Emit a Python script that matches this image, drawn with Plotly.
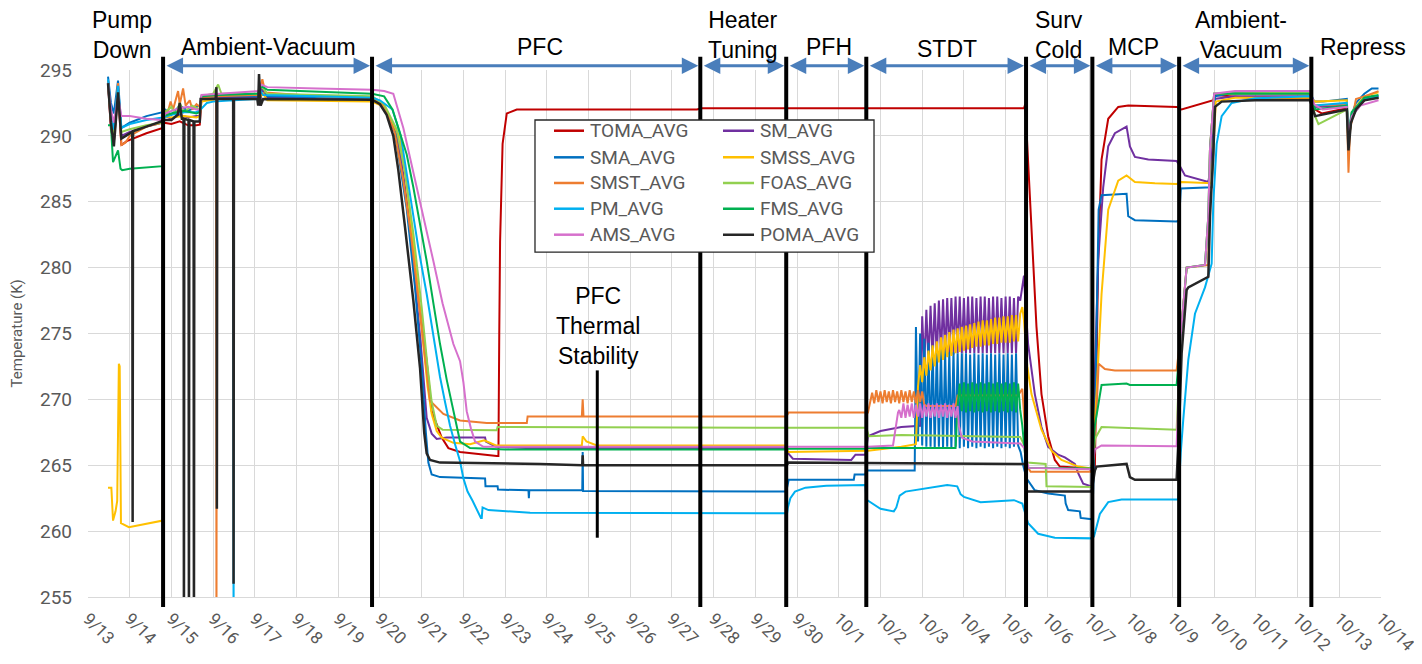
import plotly.graph_objects as go

# ---------------- data ----------------
DATE_LABELS = ['9/13', '9/14', '9/15', '9/16', '9/17', '9/18', '9/19', '9/20', '9/21', '9/22',
               '9/23', '9/24', '9/25', '9/26', '9/27', '9/28', '9/29', '9/30', '10/1', '10/2',
               '10/3', '10/4', '10/5', '10/6', '10/7', '10/8', '10/9', '10/10', '10/11', '10/12',
               '10/13', '10/14']
DAY_TICKS = list(range(32))          # days since 9/13 00:00
Y_TICKS = [255, 260, 265, 270, 275, 280, 285, 290, 295]

PHASE_BOUNDS = [1.80, 6.81, 14.68, 16.74, 18.66, 22.49, 24.08, 26.16, 29.33]
PHASE_NAMES = ["Pump<br>Down", "Ambient-Vacuum", "PFC", "Heater<br>Tuning", "PFH", "STDT",
               "Surv<br>Cold", "MCP", "Ambient-<br>Vacuum", "Repress"]
STABILITY_NAME = "PFC<br>Thermal<br>Stability"
STABILITY_DAY = 12.21
STABILITY_RANGE = [259.5, 272.2]

NAMES = ["TOMA_AVG", "SM_AVG", "SMA_AVG", "SMSS_AVG", "SMST_AVG",
         "FOAS_AVG", "PM_AVG", "FMS_AVG", "AMS_AVG", "POMA_AVG"]

# sample times of the STDT heater cycling (days since 9/13)
OSC_T = [18.75, 18.80, 18.85, 18.90, 18.95, 19.00, 19.05, 19.10, 19.15, 19.20, 19.25, 19.30,
         19.35, 19.40, 19.45, 19.50, 19.55, 19.60, 19.65, 19.70, 19.75, 19.80, 19.85, 19.90,
         19.95, 20.00, 20.05, 20.10, 20.15, 20.20, 20.25, 20.30, 20.35, 20.40, 20.45, 20.50,
         20.55, 20.60, 20.65, 20.70, 20.75, 20.80, 20.85, 20.90, 20.95, 21.00, 21.05, 21.10,
         21.15, 21.20, 21.25, 21.30, 21.35, 21.40, 21.45, 21.50, 21.55, 21.60, 21.65, 21.70,
         21.75, 21.80, 21.85, 21.90, 21.95, 22.00, 22.05, 22.10, 22.15, 22.20, 22.25, 22.30, 22.35]

TOMA = [(0.48, 294.0), (0.55, 290.5), (0.62, 289.5), (0.72, 293.3), (0.80, 289.3), (0.93, 289.6),
        (1.40, 290.2), (1.79, 290.6), (1.82, 291.0), (2.00, 290.9), (2.20, 291.1), (2.40, 290.8),
        (2.60, 290.8), (2.68, 290.85), (2.72, 292.8), (3.10, 292.9), (4.08, 292.9), (4.15, 293.6),
        (4.30, 292.95), (6.81, 292.9), (7.10, 292.3), (7.35, 290.5), (7.55, 287.0), (7.75, 282.5),
        (7.95, 277.0), (8.12, 272.9), (8.24, 269.1), (8.48, 267.1), (8.64, 266.3), (8.92, 266.0),
        (9.80, 265.7), (9.84, 265.7), (9.86, 275.0), (9.88, 282.0), (9.94, 289.4), (10.04, 291.7),
        (10.28, 292.0), (14.60, 292.0), (14.70, 292.1), (18.60, 292.1), (22.44, 292.1),
        (22.47, 292.4), (22.52, 289.2), (22.62, 283.1), (22.74, 275.5), (22.86, 270.4),
        (23.02, 267.2), (23.18, 265.4), (23.30, 264.9), (23.98, 264.75), (24.08, 264.6),
        (24.14, 264.9), (24.22, 280.6), (24.30, 288.2), (24.46, 291.3), (24.70, 292.2),
        (24.94, 292.3), (26.10, 292.2), (26.22, 292.0), (26.98, 292.7), (27.02, 293.1),
        (27.98, 292.85), (29.30, 292.85), (29.42, 292.0), (29.58, 291.7), (30.18, 292.1),
        (30.22, 289.4), (30.26, 290.5), (30.32, 291.8), (30.50, 292.5), (30.78, 293.0), (30.94, 292.85)]

SM = [(0.48, 294.0), (0.55, 291.0), (0.62, 290.0), (0.72, 293.7), (0.80, 290.0), (1.00, 290.3),
      (1.40, 290.7), (1.79, 291.0), (1.85, 291.5), (2.00, 291.3), (2.20, 291.6), (2.40, 291.4),
      (2.60, 291.5), (2.68, 291.5), (2.72, 292.8), (3.10, 292.9), (4.08, 292.9), (4.12, 292.3),
      (4.16, 293.6), (4.30, 292.95), (6.81, 292.85), (7.00, 292.5), (7.20, 291.5), (7.40, 290.3),
      (7.52, 288.0), (7.64, 285.0), (7.76, 281.5), (7.88, 277.8), (7.98, 274.2), (8.06, 271.0),
      (8.12, 268.6), (8.24, 267.4), (8.36, 267.0), (8.60, 267.1), (9.52, 267.1), (9.54, 266.8),
      (9.78, 266.4), (10.50, 266.3), (16.74, 266.3), (16.76, 266.0), (16.90, 265.5), (18.30, 265.4),
      (18.40, 265.8), (18.64, 265.8), (18.70, 267.2), (19.00, 267.6), (19.50, 267.9), (19.95, 268.0),
      (22.40, 278.5), (22.44, 279.4), (22.48, 277.0), (22.54, 274.2), (22.70, 270.4), (22.86, 267.9),
      (23.02, 266.4), (23.26, 265.8), (23.42, 265.6), (23.66, 265.1), (23.74, 264.4), (23.86, 263.6),
      (24.06, 263.4), (24.14, 273.0), (24.22, 280.6), (24.34, 286.1), (24.46, 289.2), (24.62, 290.2),
      (24.90, 290.7), (24.98, 289.2), (25.10, 288.4), (25.42, 288.2), (26.10, 288.1), (26.18, 287.7),
      (26.30, 287.0), (26.86, 286.5), (26.94, 288.0), (27.00, 292.8), (27.50, 293.0), (29.30, 293.0),
      (29.40, 292.2), (30.18, 292.3), (30.22, 289.8), (30.30, 291.5), (30.60, 292.7), (30.94, 293.0)]
SM_OSC = [276.3, 272.6, 276.8, 272.8, 277.1, 273.0, 277.3, 273.1, 277.5, 273.2, 277.6, 273.3,
          277.7, 273.4, 277.7, 273.4, 277.8, 273.5, 277.8, 273.5, 277.7, 273.5, 277.8, 273.5,
          277.8, 273.5, 277.7, 273.5, 277.8, 273.5, 277.8, 273.5, 277.7, 273.5, 277.8, 273.5,
          277.8, 273.5, 277.7, 273.5, 277.8, 273.5, 277.8, 273.5, 277.7, 273.5, 277.8, 277.5]

SMA = [(0.48, 294.5), (0.55, 292.5), (0.62, 291.7), (0.72, 294.2), (0.80, 290.6), (1.00, 291.0),
       (1.40, 291.5), (1.79, 291.8), (1.85, 292.0), (2.00, 291.6), (2.20, 292.3), (2.40, 291.9),
       (2.60, 292.2), (2.68, 292.3), (2.72, 292.9), (3.10, 293.0), (4.08, 293.0), (4.15, 293.9),
       (4.30, 293.0), (6.81, 292.9), (7.00, 292.5), (7.20, 291.5), (7.36, 290.3), (7.50, 287.5),
       (7.64, 284.5), (7.84, 278.5), (8.00, 272.5), (8.10, 267.5), (8.16, 265.2), (8.24, 264.3),
       (8.44, 264.1), (9.52, 264.0), (9.53, 263.4), (9.82, 263.4), (9.83, 263.15), (10.56, 263.1),
       (10.57, 262.5), (10.58, 263.1), (11.85, 263.1), (11.86, 266.0), (11.87, 263.05), (16.74, 263.0),
       (16.80, 263.9), (18.36, 263.9), (18.38, 264.3), (18.64, 264.3), (18.66, 264.6), (19.82, 264.6),
       (22.36, 266.0), (22.42, 265.0), (22.50, 264.0), (22.70, 263.1), (23.02, 262.85), (23.42, 262.7),
       (23.44, 262.1), (23.50, 261.6), (23.78, 261.5), (23.80, 261.0), (24.08, 260.9), (24.14, 268.0),
       (24.18, 276.0), (24.23, 284.4), (24.30, 285.5), (24.90, 285.6), (24.94, 283.9), (25.10, 283.6),
       (26.10, 283.5), (26.16, 283.6), (26.20, 286.0), (26.94, 286.1), (26.98, 289.0), (27.02, 293.0),
       (27.50, 293.3), (29.30, 293.3), (29.40, 292.6), (29.60, 292.6), (30.18, 292.8), (30.22, 289.5),
       (30.28, 291.5), (30.40, 292.5), (30.60, 293.2), (30.78, 293.6), (30.94, 293.6)]
SMA_OSC = [275.5, 266.8, 275.0, 266.5, 274.6, 266.4, 274.3, 266.4, 274.1, 266.3, 273.9, 266.4,
           273.8, 266.3, 273.7, 266.4, 273.6, 266.3, 273.6, 266.4, 273.5, 266.3, 273.5, 266.4,
           273.5, 266.3, 273.4, 266.4, 273.5, 266.3, 273.4, 266.4, 273.5, 266.3, 273.4, 266.4,
           273.5, 266.3, 273.4, 266.4, 273.5, 266.3, 273.4, 266.4, 273.5, 266.3, 273.4, 266.4,
           273.5, 266.5]

SMSS = [(0.48, 263.3), (0.56, 263.3), (0.60, 260.8), (0.66, 261.5), (0.70, 262.3), (0.74, 272.7),
        (0.76, 272.5), (0.79, 260.6), (0.98, 260.3), (1.79, 260.8), (1.82, 291.5), (2.00, 291.4),
        (2.30, 291.5), (2.60, 291.4), (2.68, 291.5), (2.72, 292.6), (3.10, 292.8), (4.08, 292.8),
        (4.20, 293.2), (4.30, 292.7), (6.81, 292.6), (7.10, 292.2), (7.48, 289.9), (7.64, 286.3),
        (7.80, 281.8), (7.92, 277.8), (8.04, 274.2), (8.14, 271.0), (8.24, 268.9), (8.36, 267.6),
        (8.48, 267.1), (8.76, 266.7), (9.16, 266.6), (9.50, 266.9), (9.78, 266.5), (11.84, 266.5),
        (11.86, 267.2), (11.95, 266.8), (12.20, 266.5), (16.74, 266.5), (16.78, 266.0), (18.70, 266.1),
        (19.50, 266.4), (19.85, 266.6), (22.40, 277.0), (22.44, 276.0), (22.52, 272.5), (22.62, 270.4),
        (22.86, 267.7), (23.10, 266.1), (23.34, 265.4), (23.74, 264.9), (24.06, 264.75), (24.18, 270.4),
        (24.30, 278.0), (24.46, 284.4), (24.70, 286.6), (24.90, 287.0), (25.10, 286.5), (25.58, 286.4),
        (26.10, 286.35), (26.22, 286.5), (26.94, 286.4), (26.98, 289.0), (27.04, 292.6), (27.50, 292.9),
        (29.30, 292.9), (29.42, 292.6), (30.18, 292.7), (30.22, 289.8), (30.30, 291.8), (30.60, 293.0),
        (30.94, 293.3)]
SMSS_OSC = [271.0, 272.6, 271.3, 273.2, 271.8, 273.7, 272.2, 274.1, 272.5, 274.4, 272.8, 274.7,
            273.0, 274.9, 273.2, 275.1, 273.3, 275.3, 273.5, 275.4, 273.6, 275.5, 273.7, 275.6,
            273.8, 275.7, 273.9, 275.8, 274.0, 275.9, 274.0, 276.0, 274.1, 276.0, 274.1, 276.1,
            274.2, 276.2, 274.2, 276.2, 274.3, 276.3, 274.3, 276.3, 274.3, 276.4, 274.4, 276.4,
            274.4, 276.5]

SMST = [(0.48, 294.2), (0.55, 291.0), (0.62, 290.0), (0.72, 294.0), (0.80, 289.3), (0.90, 289.5),
        (1.00, 290.0), (1.40, 290.7), (1.79, 291.0), (1.82, 292.0), (1.90, 291.6), (1.98, 292.6),
        (2.04, 292.0), (2.10, 292.8), (2.16, 293.4), (2.20, 292.4), (2.28, 293.6), (2.34, 292.3),
        (2.44, 292.7), (2.50, 292.0), (2.60, 292.4), (2.68, 292.2), (2.72, 292.9), (3.07, 293.0),
        (3.08, 250.0), (3.09, 293.0), (4.08, 293.1), (4.18, 294.3), (4.25, 293.3), (5.50, 293.0),
        (6.81, 292.9), (7.10, 292.3), (7.35, 290.3), (7.55, 286.8), (7.75, 282.3), (7.95, 276.8),
        (8.10, 272.5), (8.20, 269.9), (8.52, 268.9), (8.92, 268.4), (9.56, 268.2), (10.52, 268.2),
        (10.54, 268.7), (11.84, 268.7), (11.86, 270.0), (11.88, 268.7), (16.74, 268.7), (16.80, 269.0),
        (18.70, 269.0), (20.10, 269.5), (20.80, 269.5), (20.85, 270.3), (22.30, 270.3), (22.40, 270.8),
        (22.46, 268.0), (22.50, 265.0), (22.60, 264.5), (24.06, 264.5), (24.12, 266.5), (24.18, 269.2),
        (24.23, 272.7), (24.38, 272.3), (24.62, 272.2), (26.10, 272.2), (26.20, 275.0), (26.34, 280.0),
        (26.86, 280.2), (26.90, 289.0), (27.00, 293.2), (29.30, 293.2), (29.40, 292.3), (30.18, 292.4),
        (30.22, 287.2), (30.26, 290.5), (30.40, 292.8), (30.60, 293.0), (30.94, 293.4)]
SMST_OSC = [270.5, 269.7, 270.7, 269.8, 270.6, 269.7, 270.7, 269.8, 270.6, 269.7, 270.7, 269.8,
            270.6, 269.7, 270.7, 269.8, 270.6, 269.7, 270.7, 269.8, 270.6, 269.7, 270.7, 269.8,
            270.6, 269.6]

FOAS = [(0.48, 294.0), (0.55, 291.2), (0.62, 290.0), (0.72, 293.5), (0.80, 290.3), (1.00, 290.5),
        (1.40, 290.8), (1.79, 291.0), (1.85, 291.8), (2.00, 292.2), (2.10, 291.6), (2.20, 292.5),
        (2.30, 291.8), (2.50, 292.3), (2.68, 292.0), (2.72, 293.0), (3.00, 293.2), (3.12, 293.9),
        (3.20, 293.2), (4.08, 293.2), (4.15, 293.8), (4.30, 293.2), (6.81, 293.0), (7.10, 292.4),
        (7.40, 290.5), (7.60, 287.2), (7.80, 282.6), (8.00, 277.0), (8.14, 272.5), (8.24, 269.8),
        (8.36, 268.0), (8.50, 267.7), (9.80, 267.65), (9.82, 267.9), (16.74, 267.85), (18.66, 267.85),
        (18.72, 267.2), (19.50, 267.3), (22.35, 267.15), (22.45, 266.5), (22.52, 265.2), (22.96, 265.1),
        (22.98, 263.4), (24.06, 263.35), (24.14, 267.0), (24.30, 267.9), (26.10, 267.7), (26.20, 275.0),
        (26.34, 280.0), (26.78, 280.2), (26.86, 283.9), (26.90, 289.0), (27.00, 293.2), (29.30, 293.3),
        (29.42, 291.5), (29.50, 290.9), (30.18, 292.0), (30.22, 289.5), (30.30, 291.5), (30.60, 292.8),
        (30.94, 292.9)]

PM = [(0.48, 294.3), (0.55, 291.5), (0.62, 290.5), (0.72, 293.8), (0.80, 290.6), (1.00, 290.9),
      (1.40, 291.2), (1.79, 291.4), (2.00, 291.6), (2.30, 291.8), (2.60, 291.8), (2.70, 292.0),
      (2.85, 292.5), (3.00, 292.6), (3.48, 292.7), (3.49, 250.0), (3.50, 292.7), (4.08, 292.8),
      (4.12, 293.5), (4.20, 293.1), (5.50, 293.0), (6.81, 292.9), (7.00, 292.7), (7.30, 292.0),
      (7.50, 290.0), (7.72, 285.6), (7.92, 281.5), (8.12, 278.0), (8.28, 275.0), (8.44, 271.7),
      (8.56, 269.8), (8.68, 268.0), (8.80, 266.6), (8.92, 265.3), (9.00, 264.0), (9.10, 263.0),
      (9.22, 262.3), (9.32, 261.6), (9.42, 261.0), (9.44, 261.0), (9.46, 261.8), (9.60, 261.6),
      (10.00, 261.5), (10.60, 261.4), (16.76, 261.35), (16.78, 261.8), (16.84, 262.5), (16.95, 263.0),
      (17.20, 263.3), (17.70, 263.45), (18.64, 263.5), (18.66, 262.4), (19.00, 261.7), (19.32, 261.5),
      (19.38, 261.8), (19.46, 262.7), (19.60, 263.0), (19.96, 263.2), (20.60, 263.5), (20.84, 263.4),
      (20.92, 262.8), (21.00, 262.6), (21.40, 262.2), (22.20, 262.35), (22.40, 262.1), (22.54, 260.6),
      (22.78, 259.8), (23.18, 259.5), (24.08, 259.45), (24.12, 259.6), (24.26, 261.3), (24.46, 262.2),
      (24.78, 262.4), (26.14, 262.4), (26.20, 266.0), (26.26, 268.5), (26.38, 273.0), (26.54, 276.5),
      (26.78, 278.5), (26.94, 280.3), (26.98, 285.0), (27.06, 289.4), (27.18, 291.5), (27.42, 292.5),
      (27.98, 292.85), (29.30, 293.0), (29.40, 292.3), (30.18, 292.5), (30.22, 289.8), (30.30, 291.8),
      (30.60, 292.8), (30.94, 293.0)]

FMS = [(0.48, 290.8), (0.55, 290.8), (0.60, 288.0), (0.66, 288.5), (0.72, 288.9), (0.78, 287.5),
       (0.82, 287.4), (1.00, 287.5), (1.79, 287.7), (1.82, 291.5), (2.00, 291.7), (2.30, 291.9),
       (2.60, 291.7), (2.68, 291.8), (2.72, 293.0), (3.10, 293.1), (4.08, 293.2), (4.15, 293.8),
       (4.30, 293.5), (6.81, 293.2), (7.10, 293.0), (7.30, 292.0), (7.50, 290.0), (7.64, 288.6),
       (7.80, 286.1), (7.96, 283.3), (8.12, 280.5), (8.28, 277.3), (8.44, 274.2), (8.60, 271.5),
       (8.76, 269.1), (8.92, 266.8), (9.16, 266.3), (10.00, 266.2), (16.74, 266.2), (16.80, 266.26),
       (18.64, 266.26), (18.70, 266.3), (20.80, 266.3), (22.40, 268.0), (22.46, 266.0), (22.52, 264.8),
       (24.06, 264.75), (24.14, 268.0), (24.30, 271.1), (24.90, 271.2), (24.98, 271.1), (26.10, 271.1),
       (26.20, 275.0), (26.34, 280.0), (26.78, 280.2), (26.86, 283.9), (26.90, 289.0), (27.00, 293.2),
       (29.30, 293.2), (29.42, 292.0), (30.18, 292.3), (30.22, 289.8), (30.30, 291.8), (30.60, 292.9),
       (30.94, 293.1)]
FMS_OSC = [269.5, 271.2, 269.1, 271.3, 269.0, 271.2, 269.1, 271.3, 269.0, 271.2, 269.1, 271.3,
           269.0, 271.2, 269.1, 271.3, 269.0, 271.2, 269.1, 271.3, 269.0, 271.2, 269.1, 271.3,
           269.0, 271.2, 269.1, 271.3, 269.0, 271.2, 269.2]

AMS = [(0.48, 294.0), (0.55, 292.0), (0.62, 291.0), (0.72, 293.0), (0.80, 291.5), (1.00, 291.5),
       (1.40, 291.3), (1.79, 291.2), (1.85, 291.7), (2.00, 291.9), (2.20, 292.1), (2.40, 292.2),
       (2.60, 292.0), (2.68, 292.0), (2.72, 293.1), (3.10, 293.2), (4.08, 293.4), (4.15, 293.9),
       (4.30, 293.7), (5.50, 293.6), (6.81, 293.5), (7.10, 293.4), (7.32, 293.2), (7.56, 290.6),
       (7.72, 288.4), (7.88, 286.1), (8.08, 283.2), (8.28, 280.5), (8.50, 277.3), (8.76, 274.2),
       (8.92, 272.9), (9.00, 271.3), (9.08, 269.1), (9.18, 267.8), (9.28, 266.8), (9.48, 266.4),
       (10.50, 266.4), (16.74, 266.4), (18.70, 266.4), (19.30, 266.5), (19.36, 267.8), (19.42, 269.0),
       (20.88, 268.0), (20.95, 267.1), (21.20, 266.8), (22.35, 266.65), (22.45, 266.3), (22.55, 264.8),
       (24.06, 264.7), (24.14, 266.2), (24.30, 266.5), (26.10, 266.45), (26.20, 275.0), (26.34, 280.0),
       (26.78, 280.2), (26.86, 283.9), (26.90, 289.0), (27.00, 293.2), (27.50, 293.4), (29.30, 293.4),
       (29.40, 292.4), (29.60, 292.0), (30.18, 292.2), (30.22, 290.0), (30.30, 291.5), (30.50, 292.3),
       (30.94, 292.7)]
AMS_OSC = [269.2, 268.6, 269.7, 268.6, 269.6, 268.7, 269.7, 268.6, 269.6, 268.7, 269.7, 268.6,
           269.6, 268.7, 269.7, 268.6, 269.6, 268.7, 269.7, 268.6, 269.6, 268.7, 269.7, 268.6,
           269.6, 268.7, 269.7, 268.6, 269.5]

POMA = [(0.48, 294.0), (0.55, 291.0), (0.62, 289.2), (0.72, 293.3), (0.80, 289.8), (1.00, 290.2),
        (1.06, 290.3), (1.07, 260.7), (1.08, 290.35), (1.40, 290.7), (1.79, 291.1), (1.85, 291.2),
        (2.00, 291.2), (2.15, 291.6), (2.20, 292.5), (2.25, 291.3), (2.29, 291.3), (2.30, 250.0),
        (2.31, 291.3), (2.41, 291.2), (2.42, 250.0), (2.43, 291.2), (2.53, 291.1), (2.54, 250.0),
        (2.55, 291.1), (2.68, 291.1), (2.70, 292.8), (3.06, 292.8), (3.08, 293.7), (3.09, 261.7),
        (3.10, 292.8), (3.48, 292.8), (3.49, 256.0), (3.50, 292.8), (4.06, 292.8), (4.08, 292.3),
        (4.10, 294.7), (4.14, 292.3), (4.20, 292.8), (6.81, 292.75), (7.00, 292.4), (7.16, 291.6),
        (7.32, 290.0), (7.44, 287.4), (7.60, 283.1), (7.80, 277.5), (7.96, 272.4), (8.06, 267.5),
        (8.12, 265.9), (8.20, 265.4), (8.44, 265.2), (10.84, 265.1), (11.85, 265.0), (11.86, 265.75),
        (11.87, 265.0), (16.74, 265.0), (16.80, 265.2), (22.46, 265.1), (22.50, 263.0), (24.06, 263.0),
        (24.14, 264.6), (24.18, 264.9), (24.90, 265.1), (24.98, 264.1), (25.10, 263.9), (26.10, 263.9),
        (26.16, 268.0), (26.22, 273.5), (26.34, 278.3), (26.38, 278.5), (26.86, 279.3), (26.90, 283.9),
        (26.98, 288.7), (27.02, 292.2), (27.18, 292.6), (27.98, 292.7), (29.30, 292.7), (29.42, 291.5),
        (30.18, 292.0), (30.22, 288.9), (30.28, 291.0), (30.40, 292.0), (30.60, 292.7), (30.94, 292.9)]

# series: (base points, index in OSC_T where cycling starts, cycling values)
SERIES = {
    "TOMA_AVG": (TOMA, None, None),
    "SM_AVG": (SM, 25, SM_OSC),
    "SMA_AVG": (SMA, 22, SMA_OSC),
    "SMSS_AVG": (SMSS, 23, SMSS_OSC),
    "SMST_AVG": (SMST, 1, SMST_OSC),
    "FOAS_AVG": (FOAS, None, None),
    "PM_AVG": (PM, None, None),
    "FMS_AVG": (FMS, 42, FMS_OSC),
    "AMS_AVG": (AMS, 14, AMS_OSC),
    "POMA_AVG": (POMA, None, None),
}

# ---------------- styling ----------------
COLORS = {
    "TOMA_AVG": "#C00000", "SM_AVG": "#7030A0", "SMA_AVG": "#0070C0", "SMSS_AVG": "#FFC000",
    "SMST_AVG": "#ED7D31", "FOAS_AVG": "#92D050", "PM_AVG": "#00B0F0", "FMS_AVG": "#00B050",
    "AMS_AVG": "#D670CC", "POMA_AVG": "#262626",
}
GRAY = "#595959"
ARROW = "#4A7EBB"
LABEL_FONT = dict(family="Liberation Sans, Arial", size=23, color="black")

fig = go.Figure()
for name in NAMES:
    base, i0, osc = SERIES[name]
    pts = list(base)
    if osc is not None:
        pts += list(zip(OSC_T[i0:i0 + len(osc)], osc))
    pts.sort(key=lambda p: p[0])
    fig.add_trace(go.Scatter(
        x=[p[0] for p in pts], y=[p[1] for p in pts], mode="lines", name=name,
        line=dict(color=COLORS[name], width=2.5 if name == "POMA_AVG" else 2),
        hoverinfo="skip"))

shapes = []
# phase boundaries
for b in PHASE_BOUNDS:
    shapes.append(dict(type="line", xref="x", yref="paper", x0=b, x1=b, y0=-0.019, y1=1.025,
                       line=dict(color="black", width=4), layer="above"))
shapes.append(dict(type="line", xref="x", yref="y", x0=STABILITY_DAY, x1=STABILITY_DAY,
                   y0=STABILITY_RANGE[0], y1=STABILITY_RANGE[1],
                   line=dict(color="black", width=3), layer="above"))

annotations = []
# double-headed phase arrows
for a, b in zip(PHASE_BOUNDS[:-1], PHASE_BOUNDS[1:]):
    annotations.append(dict(x=b, y=1.008, xref="x", yref="paper", ax=a, ay=0, axref="x",
                            ayref="pixel", showarrow=True, arrowhead=2, arrowside="end+start",
                            arrowwidth=3, arrowsize=1.1, arrowcolor=ARROW, text="",
                            standoff=2, startstandoff=2))

# phase labels
LABEL_POS = [(0.82, 1.066), (4.32, 1.044), (10.84, 1.044), (15.70, 1.066), (17.76, 1.044),
             (20.60, 1.039), (23.28, 1.066), (25.07, 1.044), (27.65, 1.066), (30.58, 1.044)]
for txt, (lx, ly) in zip(PHASE_NAMES, LABEL_POS):
    annotations.append(dict(x=lx, y=ly, xref="x", yref="paper", text=txt, showarrow=False,
                            xanchor="center", yanchor="middle", font=LABEL_FONT))
annotations.append(dict(x=12.23, y=275.55, xref="x", yref="y", text=STABILITY_NAME,
                        showarrow=False, xanchor="center", yanchor="middle", font=LABEL_FONT))

# y-axis title
annotations.append(dict(x=-0.055, y=0.5, xref="paper", yref="paper", text="Temperature (K)",
                        showarrow=False, textangle=-90, xanchor="center", yanchor="middle",
                        font=dict(family="Roboto", size=15, color=GRAY)))

# legend (drawn manually as a two-column box)
shapes.append(dict(type="rect", xref="paper", yref="paper", x0=0.3457, x1=0.6079,
                   y0=0.6546, y1=0.9051, fillcolor="white",
                   line=dict(color="#262626", width=1.3), layer="above"))
ROW_Y = [0.8848, 0.8343, 0.7856, 0.7368, 0.6875]
COL_X = [(0.3604, 0.3836, 0.3870), (0.4911, 0.5151, 0.5185)]
for i, name in enumerate(NAMES):
    r, c = divmod(i, 2)
    x0, x1, tx = COL_X[c]
    shapes.append(dict(type="line", xref="paper", yref="paper", x0=x0, x1=x1,
                       y0=ROW_Y[r], y1=ROW_Y[r], line=dict(color=COLORS[name], width=2.5),
                       layer="above"))
    annotations.append(dict(x=tx, y=ROW_Y[r], xref="paper", yref="paper", text=name,
                            showarrow=False, xanchor="left", yanchor="middle",
                            font=dict(family="Roboto", size=19, color=GRAY)))

# the page adds an 8 px body margin, so the figure is 8 px smaller and shifted
fig.update_layout(
    width=1414, height=656,
    margin=dict(l=80, r=41, t=62, b=67, autoexpand=False),
    plot_bgcolor="white", paper_bgcolor="white",
    showlegend=False, hovermode=False,
    shapes=shapes, annotations=annotations,
    font=dict(family="Roboto", color=GRAY),
)
fig.update_xaxes(range=[0, 31], tickmode="array", tickvals=DAY_TICKS, ticktext=DATE_LABELS,
                 tickangle=45, showgrid=True, gridcolor="#D9D9D9", gridwidth=1,
                 showline=True, linecolor="#D9D9D9", linewidth=1, zeroline=False, ticks="",
                 automargin=False,
                 ticklabelstandoff=4, tickfont=dict(family="Roboto", size=17, color=GRAY))
fig.update_yaxes(range=[255, 295], tickmode="array", tickvals=Y_TICKS, showgrid=True,
                 gridcolor="#D9D9D9", gridwidth=1, zeroline=False, showline=False, ticks="",
                 automargin=False,
                 ticklabelstandoff=15, tickfont=dict(family="Roboto", size=19, color=GRAY))

fig.write_html("out.html")
